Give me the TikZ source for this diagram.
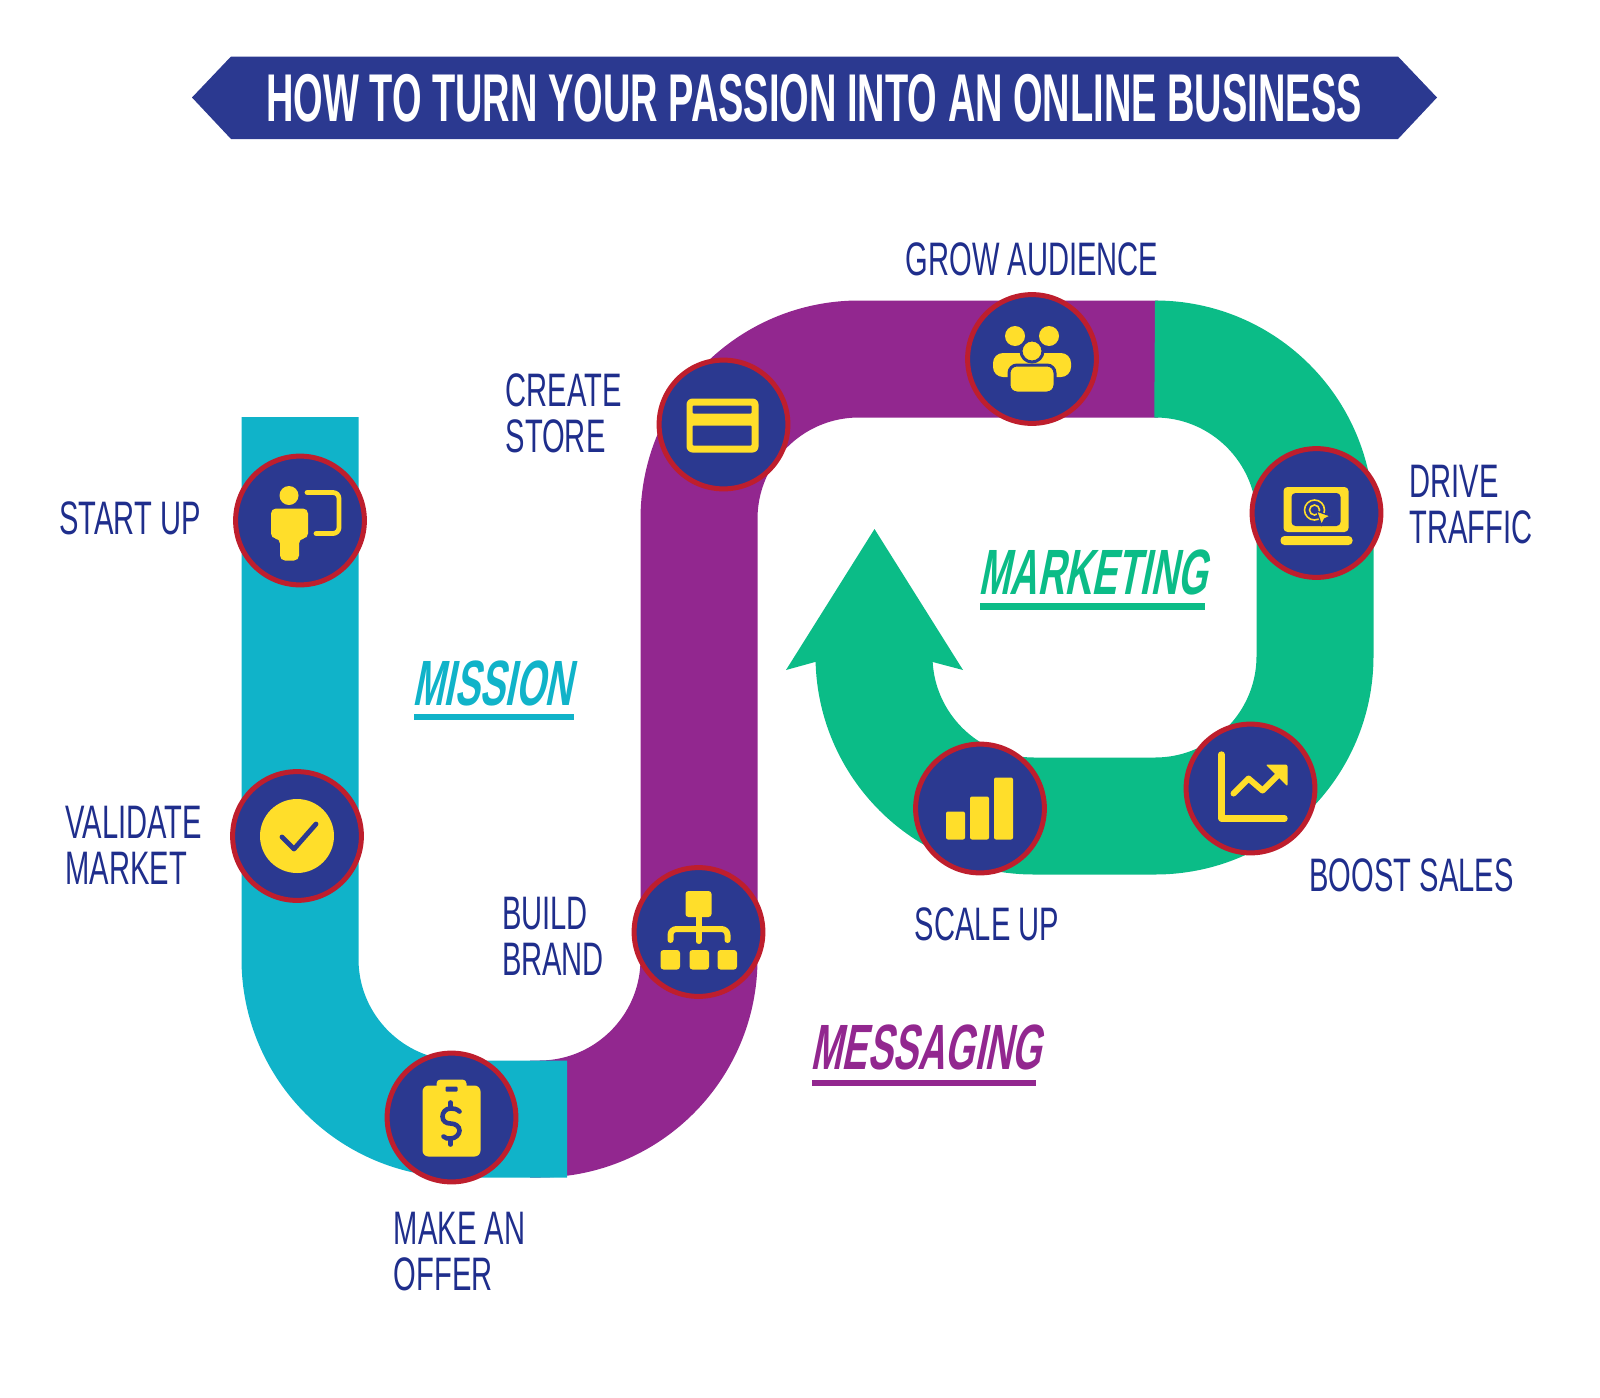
\documentclass[tikz,border=0pt]{standalone}
\usepackage{fontspec}
\usepackage{xcolor}
\usepackage{tikz}
\usetikzlibrary{positioning}
\newfontfamily\labelfont[FakeStretch=0.62]{Liberation Sans}
\newfontfamily\titlefont[FakeStretch=0.562]{Liberation Sans Bold}
\newfontfamily\headfont[FakeStretch=0.59,FakeSlant=0.2]{Liberation Sans Bold}
\definecolor{navyc}{RGB}{43,57,144}
\definecolor{inkc}{RGB}{31,46,140}
\definecolor{tealc}{RGB}{16,179,201}
\definecolor{plumc}{RGB}{146,39,143}
\definecolor{greenc}{RGB}{11,188,135}
\definecolor{ringc}{RGB}{190,30,45}
\definecolor{sunc}{RGB}{255,222,42}
\tikzset{
  band/.style={line width=58.5pt,rounded corners=80pt},
  stepdot/.style={circle,draw=ringc,line width=2.5pt,fill=navyc,minimum size=64.4pt,inner sep=0pt},
  lbl/.style={font=\labelfont\fontsize{23.5pt}{23pt}\selectfont,text=inkc,align=left,inner sep=0pt},
  head/.style={font=\headfont\fontsize{32pt}{32pt}\selectfont,anchor=west,inner sep=0pt},
  ico/.style={fill=sunc},
  icoline/.style={draw=sunc,line cap=round,line join=round},
  icogap/.style={fill=sunc,draw=navyc,line width=1.5pt},
}
\begin{document}
\begin{tikzpicture}[x=0.5pt,y=-0.5pt]
  \useasboundingbox (0,0) rectangle (1600,1397);
  % banner
  \fill[navyc] (192,97.5) -- (231,56.5) -- (1398,56.5) -- (1437,97.5) -- (1398,139) -- (231,139) -- cycle;
  \node[font=\titlefont\fontsize{33.8pt}{34pt}\selectfont,text=white,inner sep=0pt] (title) at (814,98.5)
    {HOW TO TURN YOUR PASSION INTO AN ONLINE BUSINESS};

  % ribbon
  \draw[band,plumc] (530,1119) -- (699,1119) -- (699,359) -- (1158,359);
  \draw[band,tealc] (300,417) -- (300,1119) -- (567,1119);
  \draw[band,greenc] (1157,359) -- (1315,359) -- (1315,816) -- (874,816) -- (874,662);
  \fill[greenc] (874.5,529) -- (963,670) -- (932.7,662) -- (815,662) -- (786,670) -- cycle;

  % steps
  \node[stepdot] (startup) at (300,520.5) {};
  \node[stepdot] (validate) at (297,836) {};
  \node[stepdot] (offer) at (451.5,1117.5) {};
  \node[stepdot] (brand) at (698.5,932) {};
  \node[stepdot] (store) at (723.5,424.5) {};
  \node[stepdot] (grow) at (1032,359) {};
  \node[stepdot] (drive) at (1316.5,513) {};
  \node[stepdot] (boost) at (1250.5,788.5) {};
  \node[stepdot] (scale) at (980,808.5) {};

  % labels
  \node[lbl,left=16pt of startup,yshift=1pt] {START UP};
  \node[lbl,left=13.8pt of validate,yshift=-4.5pt] {VALIDATE\\MARKET};
  \node[lbl,below=13.5pt of offer,xshift=4pt] {MAKE AN\\OFFER};
  \node[lbl,left=13.6pt of brand,yshift=-2pt] {BUILD\\BRAND};
  \node[lbl,left=17.3pt of store,yshift=5.7pt] {CREATE\\STORE};
  \node[lbl,above=7.8pt of grow] {GROW AUDIENCE};
  \node[lbl,right=12.8pt of drive,yshift=4pt] {DRIVE\\TRAFFIC};
  \node[lbl,below=1.3pt of boost,xshift=80.5pt] {BOOST SALES};
  \node[lbl,below=16pt of scale,xshift=3.5pt] {SCALE UP};

  % section heads
  \node[head,text=tealc] (mission) at (412,683) {MISSION};
  \fill[tealc] (414,714) rectangle (574,720);
  \node[head,text=plumc] (messaging) at (810,1047) {MESSAGING};
  \fill[plumc] (812,1080) rectangle (1036,1086);
  \node[head,text=greenc] (marketing) at (978,572) {MARKETING};
  \fill[greenc] (980,603) rectangle (1205,609.5);

  % icon: start up
  \begin{scope}[shift={(startup)}]
    \fill[ico] (-11,-25) circle[radius=9.5];
    \fill[ico,rounded corners=2.5pt] (-29,-12) -- (8,-12) -- (8,18) -- (-1,18) -- (-1,40) -- (-20,40) -- (-20,18) -- (-29,18) -- cycle;
    \draw[icoline,line width=2.4pt,rounded corners=3pt] (7,-28) -- (39,-28) -- (39,13) -- (16,13);
  \end{scope}
  % icon: validate
  \begin{scope}[shift={(validate)}]
    \fill[ico] (0,0) circle[radius=37];
    \draw[navyc,line width=2.4pt,line cap=round,line join=round] (-15,1) -- (-3,13) -- (19,-12);
  \end{scope}
  % icon: offer
  \begin{scope}[shift={(offer)}]
    \fill[ico,rounded corners=3pt] (-29,-32) rectangle (29,39);
    \fill[ico,rounded corners=2pt] (-15,-38) rectangle (15,-26);
    \fill[navyc,rounded corners=0.5pt] (-6,-31) rectangle (6,-26);
    \draw[navyc,line width=2.3pt,line cap=round]
      (8,-6) .. controls (5,-9) and (2,-9) .. (-1,-9) .. controls (-6,-9) and (-9,-5) .. (-9,-1)
      .. controls (-9,4) and (-5,6) .. (-1,6) .. controls (4,6) and (8,9) .. (8,13)
      .. controls (8,17) and (4,21) .. (-1,21) .. controls (-4,21) and (-6,21) .. (-8,19);
    \draw[navyc,line width=2.3pt,line cap=round] (-1,-15) -- (-1,-9) (-1,21) -- (-1,27);
  \end{scope}
  % icon: brand
  \begin{scope}[shift={(brand)}]
    \fill[ico,rounded corners=1.5pt] (-13,-41) rectangle (13,-15);
    \draw[icoline,line width=3pt] (0,-15) -- (0,9);
    \draw[icoline,line width=3pt,rounded corners=3pt] (-28,8) -- (-28,-3) -- (29,-3) -- (29,8);
    \foreach \bx in {-38,-9,19}
      \fill[ico,rounded corners=1.5pt] (\bx,18) rectangle ++(19.5,19.5);
  \end{scope}
  % icon: store
  \begin{scope}[shift={(store)}]
    \fill[ico,rounded corners=3pt] (-37,-26) rectangle (35,28);
    \fill[navyc,rounded corners=0.5pt] (-31,-19) rectangle (28,-11);
    \fill[navyc,rounded corners=0.5pt] (-31,1) rectangle (28,21);
  \end{scope}
  % icon: grow
  \begin{scope}[shift={(grow)}]
    \fill[ico] (-17,-23) circle[radius=10] (17,-23) circle[radius=10];
    \fill[ico,rounded corners=5pt] (-39,18) -- (-39,-6) -- (39,-6) -- (39,18) -- cycle;
    \path[icogap] (0,-8) circle[radius=11];
    \path[icogap,rounded corners=4pt] (-23,34) -- (-23,6) -- (23,6) -- (23,34) -- cycle;
  \end{scope}
  % icon: drive
  \begin{scope}[shift={(drive)}]
    \fill[ico,rounded corners=2pt] (-33,-26) rectangle (32,19);
    \fill[navyc,rounded corners=2pt] (-25,-20) rectangle (24,13);
    \fill[ico,rounded corners=2pt] (-36,23) rectangle (36,32);
    \draw[sunc,line width=0.8pt] (-2,-3) circle[radius=10] (-2,-3) circle[radius=5];
    \path[icogap,line width=0.6pt] (0,-2) -- (14,3) -- (8,6) -- (5,12) -- cycle;
  \end{scope}
  % icon: boost
  \begin{scope}[shift={(boost)}]
    \draw[icoline,line width=3.2pt] (-29,-34) -- (-29,30) -- (34,30);
    \draw[icoline,line width=3pt] (-17,5) -- (-2,-10) -- (12,2) -- (31,-17);
    \fill[ico,rounded corners=1pt] (15,-24) -- (37,-24) -- (37,-2) -- cycle;
  \end{scope}
  % icon: scale
  \begin{scope}[shift={(scale)}]
    \fill[ico,rounded corners=1pt] (-34,3) rectangle (-15,31);
    \fill[ico,rounded corners=1pt] (-10,-12) rectangle (9,31);
    \fill[ico,rounded corners=1pt] (14,-31) rectangle (33,31);
  \end{scope}
\end{tikzpicture}
\end{document}
